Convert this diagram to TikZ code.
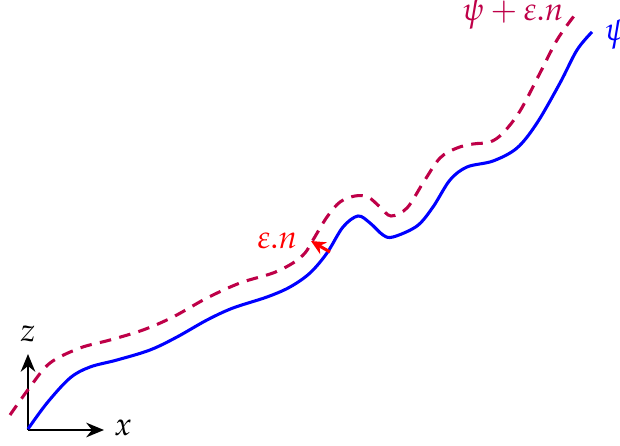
\documentclass[tikz,border=0pt]{standalone}
\usepackage{mathpazo}
\usetikzlibrary{arrows.meta}
\definecolor{dashcol}{RGB}{190,0,72}
\tikzset{
  axis/.style={line width=0.85pt,-{Stealth[length=5.5pt,width=4.5pt]}},
  surf/.style={blue,line width=0.95pt},
  offsurf/.style={dashcol,line width=0.95pt,dash pattern=on 3.6pt off 2.6pt},
  normalarrow/.style={red,line width=0.95pt,-{Stealth[length=4.5pt,width=4.2pt]}},
  lab/.style={inner sep=1pt,font=\normalsize}
}
\begin{document}
\begin{tikzpicture}[x=0.31pt,y=-0.31pt]
\useasboundingbox (0,0) rectangle (620,446);
% axes
\coordinate (O) at (28,430);
\coordinate (X) at (104,430);
\coordinate (Z) at (28,354);
\draw[axis] (O) -- (X);
\draw[axis] (O) -- (Z);
\node[lab] (xl) at (123,428) {$x$};
\node[lab] (zl) at (28,334) {$z$};
% surface psi
\draw[surf] plot[smooth,tension=0.55] coordinates {
 (28,429) (47,403) (70,378) (90,367) (117,360) (150,350) (177,337) (207,320)
 (233,308) (267,297) (290,287) (310,273) (327,253) (343,227) (358,216) (370,223)
 (383,235) (393,237) (417,226) (433,207) (450,180) (467,167) (493,161) (517,148)
 (537,123) (560,83) (577,50) (592,32)};
% offset surface
\draw[offsurf] plot[smooth,tension=0.55] coordinates {
 (10,415) (30,387) (50,363) (80,348) (110,340) (143,330) (173,317) (207,298)
 (240,283) (273,273) (293,263) (305,253) (313,240) (327,217) (340,202) (355,196)
 (368,197) (380,207) (391,216) (407,208) (423,183) (440,158) (457,148) (473,144)
 (490,142) (503,133) (520,111) (540,73) (557,40) (574,16)};
% normal
\coordinate (P) at (330,252);
\coordinate (Q) at (311,241);
\draw[normalarrow] (P) -- (Q);
\node[lab,red,anchor=east] (en) at (301,241) {$\varepsilon.n$};
\node[lab,dashcol] (pe) at (513,15) {$\psi+\varepsilon.n$};
\node[lab,blue,anchor=west] (ps) at (601,35) {$\psi$};
\end{tikzpicture}
\end{document}
